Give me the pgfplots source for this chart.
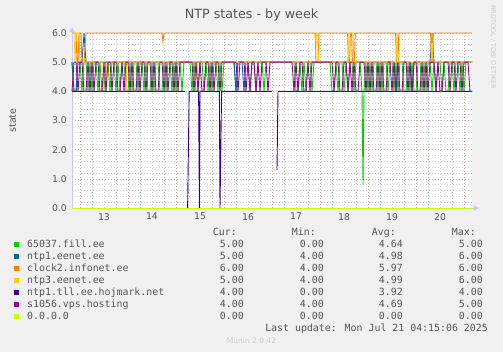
\documentclass[border=0pt]{standalone}
\usepackage{pgfplots}
\usepackage{pgfplotstable}
\pgfplotsset{compat=1.18}
\usepackage{fontspec}
\setmainfont{DejaVu Sans}
\newfontfamily\mono{DejaVu Sans Mono}
\usetikzlibrary{arrows.meta}
\definecolor{bg}{HTML}{F0F0F0}
\definecolor{txt}{HTML}{555555}
\definecolor{faint}{HTML}{CCCCCC}
\definecolor{axc}{HTML}{C8C8F0}
\definecolor{mgrid}{HTML}{EAA8A8}
\definecolor{ngrid}{HTML}{D4D4D4}
\definecolor{cG}{HTML}{00CC00}
\definecolor{cB}{HTML}{0066B3}
\definecolor{cO}{HTML}{FF8000}
\definecolor{cY}{HTML}{FFCC00}
\definecolor{cD}{HTML}{330099}
\definecolor{cP}{HTML}{990099}
\definecolor{cL}{HTML}{CCFF00}

% x = hours since Jul 12 20:00 (0..200)
\pgfplotstableread[row sep=\\]{h y\\
0 5\\1 4\\2 4\\3 5\\4 5\\5 4\\6 5\\7 5\\8 4\\9 5\\
10 4\\11 5\\12 5\\13 4\\14 5\\15 4\\16 4\\17 5\\18 5\\19 4\\
20 5\\21 5\\22 4\\23 5\\24 4\\25 5\\26 5\\27 4\\28 4\\29 5\\
30 4\\31 5\\32 5\\33 4\\34 5\\35 5\\36 4\\37 5\\38 4\\39 4\\
40 5\\41 4\\42 5\\43 5\\44 4\\45 4\\46 5\\47 4\\48 5\\49 5\\
50 4\\51 5\\52 4\\53 5\\54 5\\55 4\\56 5\\57 5\\58 5\\59 5\\
60 4\\61 5\\62 4\\63 4\\64 5\\65 5\\66 4\\67 5\\68 4\\69 5\\
70 4\\71 5\\72 5\\73 4\\74 5\\75 4\\76 5\\77 5\\78 5\\79 5\\
80 5\\81 5\\82 4\\83 5\\84 5\\85 5\\86 5\\87 5\\88 5\\89 4\\
90 5\\91 5\\92 4\\93 5\\94 5\\95 5\\96 4\\97 5\\98 5\\99 5\\
100 5\\110 5\\111 5\\112 4\\113 4\\114 5\\115 4\\116 5\\117 4\\118 5\\119 5\\
120 4\\121 5\\129 5\\
130 4\\131 4\\132 5\\133 4\\134 5\\135 5\\136 4\\137 5\\138 4\\139 5\\
140 5\\141 4\\142 5\\143 5\\144 5\\145 4\\145.5 0.8\\146 4\\147 5\\148 4\\149 5\\
150 4\\151 5\\152 5\\153 4\\154 5\\155 4\\156 5\\157 5\\158 4\\159 5\\
160 5\\161 4\\162 5\\163 4\\164 5\\165 5\\166 4\\167 4\\168 5\\169 4\\
170 5\\171 4\\172 4\\173 5\\174 5\\175 4\\176 5\\177 4\\178 5\\179 5\\
180 4\\181 5\\182 4\\183 5\\184 5\\185 4\\186 5\\187 4\\188 4\\189 5\\
190 5\\191 4\\192 5\\193 5\\194 4\\195 5\\196 4\\197 5\\198 5\\199 5\\200 5\\
}\tG

\pgfplotstableread[row sep=\\]{h y\\
0 4\\1 5\\2 5\\3 4\\4 5\\5 5\\6 4\\7 4\\8 5\\9 4\\
10 5\\11 4\\12 5\\13 5\\14 4\\15 4\\16 5\\17 4\\18 5\\19 5\\
20 4\\21 5\\22 5\\23 4\\24 4\\25 5\\26 4\\27 5\\28 5\\29 4\\
30 5\\31 4\\32 4\\33 5\\34 4\\35 5\\36 5\\37 4\\38 5\\39 5\\
40 4\\41 5\\42 4\\43 4\\44 5\\45 5\\46 4\\47 5\\48 4\\49 5\\
50 5\\51 4\\52 5\\53 4\\54 5\\55 5\\60 5\\
61 4\\62 5\\63 4\\64 5\\65 4\\66 4\\67 5\\68 5\\69 4\\
70 5\\71 4\\72 5\\73 5\\74 4\\75 5\\82 5\\83 4\\84 5\\86 5\\87 4\\88 5\\89 4\\
90 5\\91 5\\92 4\\93 5\\94 4\\95 5\\97 5\\98 4\\99 5\\
110 5\\111 4\\112 5\\113 4\\114 5\\115 5\\116 4\\117 4\\118 5\\119 4\\
120 5\\130 5\\131 4\\132 5\\133 5\\134 4\\135 4\\136 5\\137 5\\138 4\\139 5\\
140 4\\141 5\\142 4\\143 4\\144 5\\145 5\\146 5\\147 4\\148 5\\149 4\\
150 5\\151 4\\152 4\\153 5\\154 4\\155 5\\156 4\\157 4\\158 5\\159 5\\
160 4\\161 5\\162 4\\163 5\\164 4\\165 4\\166 5\\167 5\\168 4\\169 5\\
170 4\\171 5\\172 5\\173 4\\174 4\\175 5\\176 4\\177 5\\178 4\\179 5\\
180 5\\181 5\\182 4\\183 5\\184 4\\185 4\\186 5\\187 5\\188 5\\189 4\\
190 5\\191 5\\192 4\\193 5\\194 5\\195 4\\196 5\\197 5\\198 5\\199 4\\200 4\\
}\tP

\begin{document}
\begin{tikzpicture}[x=1pt,y=1pt]
\useasboundingbox (0,0) rectangle (503,352);
\fill[bg] (0,0) rectangle (503,352);
\begin{axis}[
  at={(72pt,144pt)}, anchor=south west,
  width=400pt, height=175pt, scale only axis,
  xmin=0, xmax=200, ymin=0, ymax=6,
  clip=false,
  axis background/.style={fill=white},
  axis line style={draw=none},
  xtick={4,28,52,76,100,124,148,172,196},
  xticklabels={,,,,,,,,},
  extra x ticks={16,40,64,88,112,136,160,184},
  extra x tick labels={13,14,15,16,17,18,19,20},
  extra x tick style={grid=none},
  minor x tick num=3,
  ytick={0,1,2,3,4,5,6},
  yticklabels={0.0,1.0,2.0,3.0,4.0,5.0,6.0},
  minor y tick num=4,
  grid=both,
  major grid style={mgrid, dash pattern=on 1pt off 2pt, line width=0.5pt},
  minor grid style={ngrid, dash pattern=on 1pt off 2pt, line width=0.5pt},
  major tick length=0pt, minor tick length=0pt,
  tick label style={font=\fontsize{9.3}{10}\selectfont, text=txt},
  yticklabel style={anchor=east, inner sep=0pt, xshift=-5pt},
  xticklabel style={anchor=north, inner sep=0pt, yshift=-5pt},
  every axis plot/.append style={line width=0.9pt, no markers},
]
\draw[axc, line width=0.8pt, -{Triangle[length=5pt,width=5pt]}] (axis cs:0,0) -- (axis cs:0,6.2);
\draw[axc, line width=0.8pt, -{Triangle[length=5pt,width=5pt]}] (axis cs:0,0) -- (axis cs:203.5,0);
% 65037.fill.ee
\addplot[cG] table[x=h,y=y]{\tG};
% ntp1.eenet.ee
\addplot[cB] coordinates {(0,5)(1,4)(2,4)(3,5)(5,5)(6,6)(7,5)(81,5)(82,4)(83,5)(85,5)(86,4)(87,5)(161,5)(162,4)(163,5)(169,5)(170,4)(171,5)(179,5)(180,6)(181,5)(200,5)};
% clock2.infonet.ee
\addplot[cO] coordinates {(0,6)(2,6)(2.5,5)(3,5)(3.5,6)(4.5,6)(5,5)(6,5)(7,6)(45,6)(45.5,5.7)(46,6)(121.5,6)(122,5)(123,5)(123.5,6)(137.8,6)(138.2,5)(138.8,5)(139.2,6)(139.8,6)(140.2,5)(141.2,5)(141.6,6)(161.8,6)(162.2,5)(163,5)(163.4,6)(179.3,6)(179.7,5)(180.3,5)(180.7,6)(200,6)};
% ntp3.eenet.ee
\addplot[cY] coordinates {(0,6)(1,6)(1.5,5)(2,6)(3.5,6)(4,5)(15.5,5)(16,4)(17,4)(17.5,5)(26.5,5)(27,4)(27.5,5)(62,5)(62.5,4.4)(63,5)(121.8,5)(122.2,6)(122.8,6)(123.2,5)(138,5)(138.5,6)(140.5,6)(141,5)(162,5)(162.5,6)(163,5)(179.6,5)(180,6)(180.4,5)(200,5)};
% ntp1.tll.ee.hojmark.net
\addplot[cD, unbounded coords=jump] coordinates {(0,4)(56.5,4)(57,nan)(57.8,0)(58.6,4)(63.3,4)(63.7,0)(64,4)(73.7,4)(74,0)(74.8,4)(100,4)(101,nan)(102.5,1.3)(103,4)(200,4)};
% s1056.vps.hosting
\addplot[cP] table[x=h,y=y]{\tP};
% 0.0.0.0
\addplot[cL] coordinates {(0,0)(200,0)};
\end{axis}

\node[anchor=base, font=\fontsize{12.7}{14}\selectfont, text=txt] at (251.5,333.7) {NTP states - by week};
\node[rotate=90, anchor=base, font=\fontsize{9.5}{10}\selectfont, text=txt] at (16,231.5) {state};
\node[rotate=-90, anchor=base west, inner sep=0pt, font=\fontsize{6.5}{7}\selectfont, text=faint] at (491,347) {RRDTOOL / TOBI OETIKER};

\begin{scope}[every node/.style={inner sep=0pt, text=txt, font=\mono\fontsize{9.9}{11}\selectfont}]
\node[anchor=base east] at (237,116.7) {Cur:};
\node[anchor=base east] at (316,116.7) {Min:};
\node[anchor=base east] at (396,116.7) {Avg:};
\node[anchor=base east] at (476,116.7) {Max:};
\foreach \c/\n/\cu/\mi/\av/\ma/\yy in {
  cG/65037.fill.ee/5.00/0.00/4.64/5.00/104.7,
  cB/ntp1.eenet.ee/5.00/4.00/4.98/6.00/92.7,
  cO/clock2.infonet.ee/6.00/4.00/5.97/6.00/80.7,
  cY/ntp3.eenet.ee/5.00/4.00/4.99/6.00/68.7,
  cD/ntp1.tll.ee.hojmark.net/4.00/0.00/3.92/4.00/56.7,
  cP/s1056.vps.hosting/4.00/4.00/4.69/5.00/44.7,
  cL/0.0.0.0/0.00/0.00/0.00/0.00/32.7}{
  \fill[\c] (14,\yy) rectangle (19,\yy+5);
  \node[anchor=base west] at (27,\yy) {\n};
  \node[anchor=base east] at (244,\yy) {\cu};
  \node[anchor=base east] at (324,\yy) {\mi};
  \node[anchor=base east] at (403,\yy) {\av};
  \node[anchor=base east] at (483,\yy) {\ma};
}
\node[anchor=base east] at (488,20.7) {Last update: Mon Jul 21 04:15:06 2025};
\end{scope}
\node[anchor=base, inner sep=0pt, font=\fontsize{7.5}{8}\selectfont, text=faint] at (251.5,8) {Munin 2.0.42};
\end{tikzpicture}
\end{document}
